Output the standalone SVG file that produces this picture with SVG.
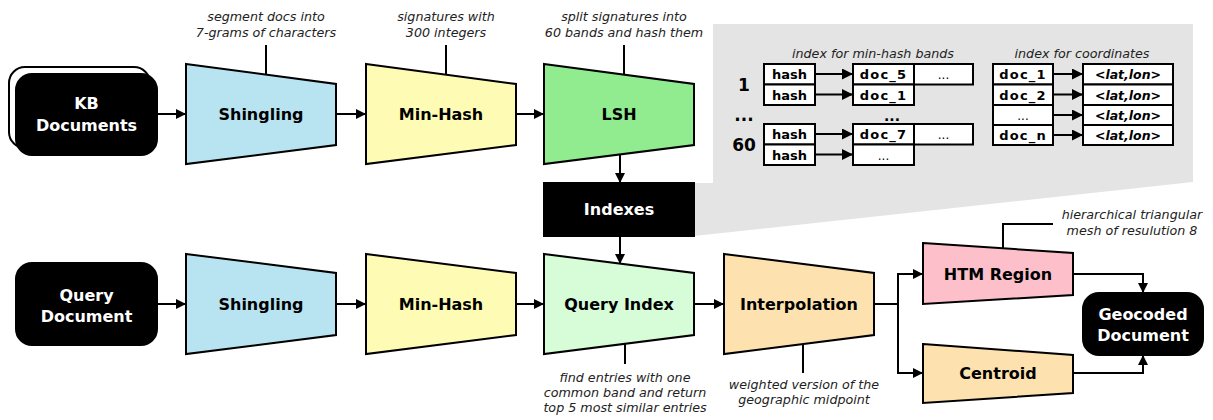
<svg xmlns="http://www.w3.org/2000/svg" width="1213" height="420" viewBox="0 0 1213 420">
<defs>
<marker id="ah" viewBox="0 0 10 10" refX="10" refY="5" markerWidth="10" markerHeight="10" markerUnits="userSpaceOnUse" orient="auto">
<path d="M0,0 L10,5 L0,10 z" fill="#000"/>
</marker>
<marker id="ahs" viewBox="0 0 10 10" refX="10" refY="5" markerWidth="11" markerHeight="11" markerUnits="userSpaceOnUse" orient="auto">
<path d="M0,0 L10,5 L0,10 z" fill="#000"/>
</marker>
<style>
.tr{stroke:#000;stroke-width:2;stroke-linejoin:miter}
.blk{fill:#000;stroke:#000;stroke-width:2}
.lbl{font-family:"DejaVu Sans",Verdana,sans-serif;font-weight:bold;font-size:16px;text-anchor:middle;fill:#000}
.wl{font-family:"DejaVu Sans",Verdana,sans-serif;font-weight:bold;font-size:16px;text-anchor:middle;fill:#fff}
.ann{font-family:"DejaVu Sans",Verdana,sans-serif;font-style:italic;font-size:12.7px;text-anchor:middle;fill:#222}
.con{fill:none;stroke:#000;stroke-width:2}
.ln{fill:none;stroke:#000;stroke-width:2}
.cell{fill:#fff;stroke:#000;stroke-width:2}
.ct{font-family:"DejaVu Sans",Verdana,sans-serif;font-weight:bold;font-size:13px;text-anchor:middle;fill:#000}
.cd{font-family:"DejaVu Sans",Verdana,sans-serif;font-size:12px;text-anchor:middle;fill:#000}
.cl{font-family:"DejaVu Sans",Verdana,sans-serif;font-weight:bold;font-style:italic;font-size:12.5px;text-anchor:middle;fill:#000}
.num{font-family:"DejaVu Sans",Verdana,sans-serif;font-weight:bold;font-size:17px;text-anchor:middle;fill:#000}
.tcon{fill:none;stroke:#000;stroke-width:2}
</style>
</defs>
<rect width="1213" height="420" fill="#fff"/>

<g id="index-panel">
<polygon points="713,24 1193,24 1193,182 694,236 694,183 713,183" fill="#e4e4e4"/>
<text class="ann" x="873" y="58">index for min-hash bands</text>
<text class="ann" x="1082" y="58">index for coordinates</text>
<text class="num" x="744" y="91">1</text>
<text class="num" x="744" y="121">...</text>
<text class="num" x="744" y="151">60</text>
<rect class="cell" x="764" y="64" width="51" height="20.5"/>
<rect class="cell" x="764" y="84.5" width="51" height="20.5"/>
<rect class="cell" x="764" y="124" width="51" height="20.5"/>
<rect class="cell" x="764" y="144.5" width="51" height="20.5"/>
<text class="ct" x="789.5" y="79">hash</text>
<text class="ct" x="789.5" y="99.5">hash</text>
<text class="ct" x="789.5" y="139">hash</text>
<text class="ct" x="789.5" y="159.5">hash</text>
<rect class="cell" x="853" y="64" width="61" height="20.5"/>
<rect class="cell" x="914" y="64" width="59" height="20.5"/>
<rect class="cell" x="853" y="84.5" width="61" height="20.5"/>
<rect class="cell" x="853" y="124" width="61" height="20.5"/>
<rect class="cell" x="914" y="124" width="59" height="20.5"/>
<rect class="cell" x="853" y="144.5" width="61" height="20.5"/>
<text class="ct" x="883.5" y="79" letter-spacing="1.2">doc_5</text>
<text class="cd" x="943.5" y="79">...</text>
<text class="ct" x="883.5" y="99.5" letter-spacing="1.2">doc_1</text>
<text class="num" x="892" y="121" style="font-size:14px">...</text>
<text class="ct" x="883.5" y="139" letter-spacing="1.2">doc_7</text>
<text class="cd" x="943.5" y="139">...</text>
<text class="cd" x="883.5" y="159.5">...</text>
<rect class="cell" x="993" y="64" width="60" height="20.5"/>
<rect class="cell" x="993" y="84.5" width="60" height="20.5"/>
<rect class="cell" x="993" y="105" width="60" height="20"/>
<rect class="cell" x="993" y="125" width="60" height="20"/>
<text class="ct" x="1023" y="79" letter-spacing="1.2">doc_1</text>
<text class="ct" x="1023" y="99.5" letter-spacing="1.2">doc_2</text>
<text class="cd" x="1023" y="119.5">...</text>
<text class="ct" x="1023" y="139.5" letter-spacing="1.2">doc_n</text>
<rect class="cell" x="1083" y="64" width="90" height="20.5"/>
<rect class="cell" x="1083" y="84.5" width="90" height="20.5"/>
<rect class="cell" x="1083" y="105" width="90" height="20"/>
<rect class="cell" x="1083" y="125" width="90" height="20"/>
<text class="cl" x="1128" y="79">&lt;lat,lon&gt;</text>
<text class="cl" x="1128" y="99.5">&lt;lat,lon&gt;</text>
<text class="cl" x="1128" y="119.5">&lt;lat,lon&gt;</text>
<text class="cl" x="1128" y="139.5">&lt;lat,lon&gt;</text>
<g id="table-arrows">
<line class="tcon" x1="815" y1="74" x2="853" y2="74" marker-end="url(#ahs)"/>
<line class="tcon" x1="815" y1="94.5" x2="853" y2="94.5" marker-end="url(#ahs)"/>
<line class="tcon" x1="815" y1="134" x2="853" y2="134" marker-end="url(#ahs)"/>
<line class="tcon" x1="815" y1="154.5" x2="853" y2="154.5" marker-end="url(#ahs)"/>
<line class="tcon" x1="1053" y1="74" x2="1083" y2="74" marker-end="url(#ahs)"/>
<line class="tcon" x1="1053" y1="94.5" x2="1083" y2="94.5" marker-end="url(#ahs)"/>
<line class="tcon" x1="1053" y1="115" x2="1083" y2="115" marker-end="url(#ahs)"/>
<line class="tcon" x1="1053" y1="135" x2="1083" y2="135" marker-end="url(#ahs)"/>
</g>
</g>

<g id="kb-documents">
<rect x="9" y="67" width="141" height="81" rx="16" fill="#fff" stroke="#000" stroke-width="2"/>
<rect class="blk" x="16" y="74" width="141" height="81" rx="16"/>
<text class="wl" x="86.5" y="109">KB</text>
<text class="wl" x="86.5" y="131">Documents</text>
</g>

<g id="shingling-top">
<polygon class="tr" points="186,64 336,84 336,145 186,164" fill="#b8e4f2"/>
<text class="lbl" x="261" y="120">Shingling</text>
</g>
<g id="minhash-top">
<polygon class="tr" points="366,64 516,84 516,145 366,164" fill="#fefcb4"/>
<text class="lbl" x="441" y="120">Min-Hash</text>
</g>
<g id="lsh">
<polygon class="tr" points="544,64 694,84 694,145 544,164" fill="#90ec8e"/>
<text class="lbl" x="619" y="120">LSH</text>
</g>
<g id="indexes">
<rect class="blk" x="544" y="183" width="150" height="53"/>
<text class="wl" x="619" y="215">Indexes</text>
</g>

<g id="query-document">
<rect class="blk" x="16" y="263" width="141" height="82" rx="16"/>
<text class="wl" x="86.5" y="301">Query</text>
<text class="wl" x="86.5" y="322">Document</text>
</g>
<g id="shingling-bottom">
<polygon class="tr" points="186,254 336,273 336,335 186,354" fill="#b8e4f2"/>
<text class="lbl" x="261" y="310">Shingling</text>
</g>
<g id="minhash-bottom">
<polygon class="tr" points="366,254 516,273 516,335 366,354" fill="#fefcb4"/>
<text class="lbl" x="441" y="310">Min-Hash</text>
</g>
<g id="query-index">
<polygon class="tr" points="544,254 694,273 694,335 544,354" fill="#d6fcd8"/>
<text class="lbl" x="619" y="310">Query Index</text>
</g>
<g id="interpolation">
<polygon class="tr" points="724,254 874,273 874,335 724,354" fill="#fde2b0"/>
<text class="lbl" x="799" y="310">Interpolation</text>
</g>
<g id="htm-region">
<polygon class="tr" points="923,243 1073,253 1073,295 923,304" fill="#fdc0cb"/>
<text class="lbl" x="998" y="280">HTM Region</text>
</g>
<g id="centroid">
<polygon class="tr" points="923,344 1073,355 1073,393 923,403" fill="#fde2b0"/>
<text class="lbl" x="998" y="379">Centroid</text>
</g>
<g id="geocoded-document">
<rect class="blk" x="1083" y="293" width="120" height="62" rx="16"/>
<text class="wl" x="1143" y="320">Geocoded</text>
<text class="wl" x="1143" y="341">Document</text>
</g>

<g id="annotations">
<line class="ln" x1="266" y1="45" x2="266" y2="75"/>
<text class="ann" x="266" y="21">segment docs into</text>
<text class="ann" x="266" y="37">7-grams of characters</text>
<line class="ln" x1="446" y1="45" x2="446" y2="75"/>
<text class="ann" x="446" y="21">signatures with</text>
<text class="ann" x="446" y="37">300 integers</text>
<line class="ln" x1="624" y1="45" x2="624" y2="75"/>
<text class="ann" x="624" y="21">split signatures into</text>
<text class="ann" x="624" y="37">60 bands and hash them</text>
<line class="ln" x1="625" y1="344" x2="625" y2="364"/>
<text class="ann" x="625" y="382">find entries with one</text>
<text class="ann" x="625" y="397">common band and return</text>
<text class="ann" x="625" y="412">top 5 most similar entries</text>
<line class="ln" x1="803" y1="344" x2="803" y2="373"/>
<text class="ann" x="804" y="389">weighted version of the</text>
<text class="ann" x="804" y="404">geographic midpoint</text>
<path class="ln" d="M1003,248 V224 H1053"/>
<text class="ann" x="1132" y="219">hierarchical triangular</text>
<text class="ann" x="1132" y="235">mesh of resulution 8</text>
</g>

<g id="connectors">
<line class="con" x1="157" y1="114" x2="186" y2="114" marker-end="url(#ah)"/>
<line class="con" x1="336" y1="114" x2="366" y2="114" marker-end="url(#ah)"/>
<line class="con" x1="516" y1="114" x2="544" y2="114" marker-end="url(#ah)"/>
<line class="con" x1="620" y1="155" x2="620" y2="183" marker-end="url(#ah)"/>
<line class="con" x1="620" y1="236" x2="620" y2="264" marker-end="url(#ah)"/>
<line class="con" x1="157" y1="304" x2="186" y2="304" marker-end="url(#ah)"/>
<line class="con" x1="336" y1="304" x2="366" y2="304" marker-end="url(#ah)"/>
<line class="con" x1="516" y1="304" x2="544" y2="304" marker-end="url(#ah)"/>
<line class="con" x1="694" y1="304" x2="724" y2="304" marker-end="url(#ah)"/>
<path class="con" d="M874,304 H898"/>
<path class="con" d="M898,304 V274 H923" marker-end="url(#ah)"/>
<path class="con" d="M898,304 V373 H923" marker-end="url(#ah)"/>
<path class="con" d="M1073,274 H1143 V293" marker-end="url(#ah)"/>
<path class="con" d="M1073,373 H1143 V355" marker-end="url(#ah)"/>
</g>
</svg>
